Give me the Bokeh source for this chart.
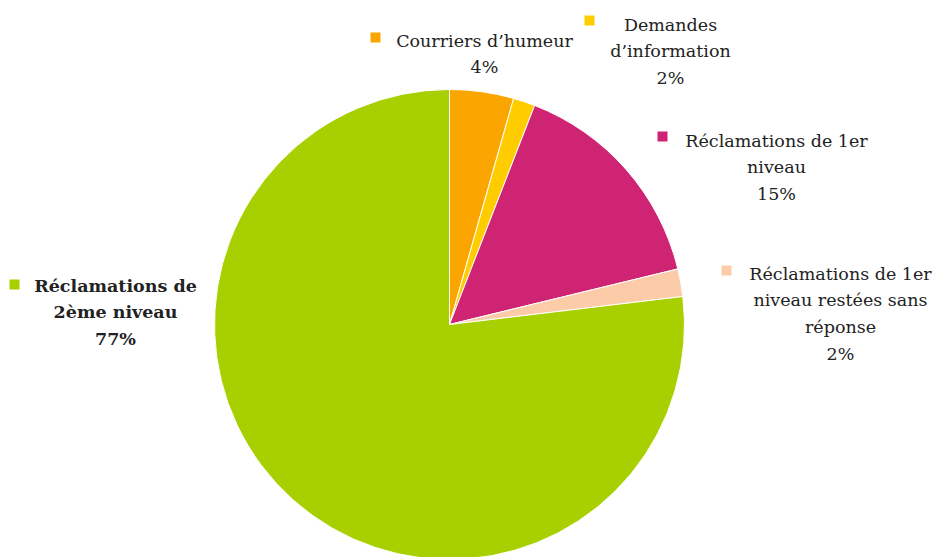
import math
from bokeh.plotting import figure
from bokeh.models import Range1d
from bokeh.core.properties import value
from bokeh.embed import file_html
from bokeh.resources import INLINE

categories = ["Courriers d\u2019humeur", "Demandes d\u2019information",
              "R\u00e9clamations de 1er niveau",
              "R\u00e9clamations de 1er niveau rest\u00e9es sans r\u00e9ponse",
              "R\u00e9clamations de 2\u00e8me niveau"]
shares = [4.4, 1.5, 15.3, 1.9, 76.9]
pct_labels = ["4%", "2%", "15%", "2%", "77%"]
colors = ["#FBA600", "#FFCC00", "#CF2374", "#FBCCA7", "#A8CF00"]

W, H = 938, 557
p = figure(width=W, height=H, output_backend="svg", toolbar_location=None,
           x_range=Range1d(0, W), y_range=Range1d(0, H), min_border=0,
           outline_line_color=None, background_fill_color="white",
           border_fill_color="white")
p.axis.visible = False
p.grid.visible = False

def px(x):
    return x

def py(y):
    return H - y

cx, cy, r = px(449), py(324), 235
total = sum(shares)
start = math.pi / 2
starts, ends = [], []
for v in shares:
    a = 2 * math.pi * v / total
    starts.append(start)
    ends.append(start - a)
    start -= a
p.wedge(x=[cx] * len(shares), y=[cy] * len(shares), radius=r,
        start_angle=ends, end_angle=starts, direction="anticlock",
        fill_color=colors, line_color="white", line_width=1)

# label layout: (square x, square y, text center x, first line y, lines, bold)
layouts = [
    (375, 37, 484, 40, ["Courriers d\u2019humeur"], False),
    (589, 20, 670, 24, ["Demandes", "d\u2019information"], False),
    (662, 136, 776, 140, ["R\u00e9clamations de 1er", "niveau"], False),
    (726, 270, 840, 273, ["R\u00e9clamations de 1er", "niveau rest\u00e9es sans", "r\u00e9ponse"], False),
    (14, 284, 115, 285, ["R\u00e9clamations de", "2\u00e8me niveau"], True),
]
LH = 26.7
for i, (sx, sy, tx, ty, lines, bold) in enumerate(layouts):
    p.scatter(x=[px(sx)], y=[py(sy)], marker="square", size=10,
              fill_color=colors[i], line_color=None)
    all_lines = lines + [pct_labels[i]]
    xs = [px(tx)] * len(all_lines)
    ys = [py(ty + k * LH) for k in range(len(all_lines))]
    p.text(x=xs, y=ys, text=all_lines, text_align="center",
           text_baseline="middle", text_font=value("DejaVu Serif"),
           text_font_size="17.5px", text_color="#222222",
           text_font_style="bold" if bold else "normal")

open("out.html", "w").write(file_html(p, INLINE))
